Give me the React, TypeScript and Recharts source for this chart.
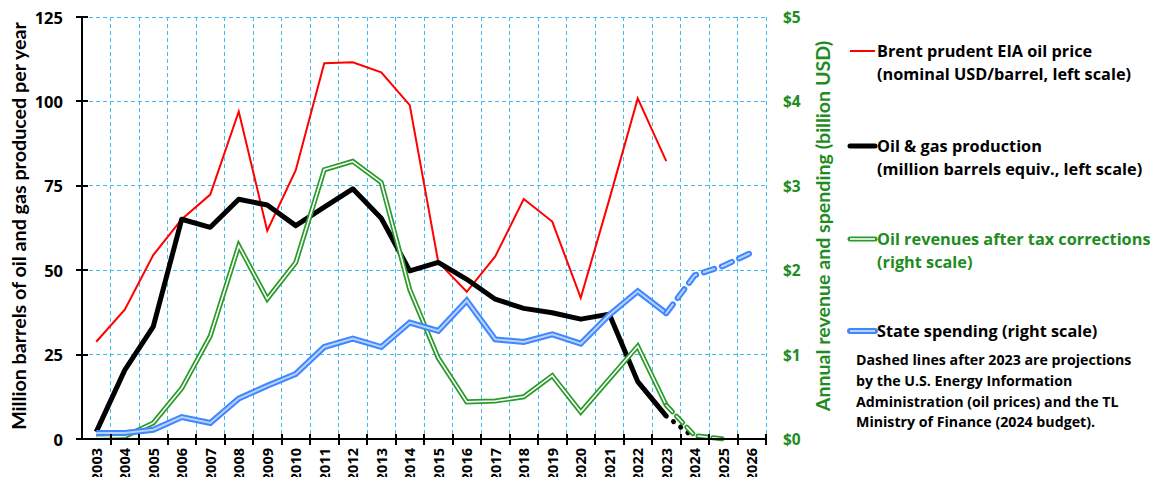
import { LineChart, Line, XAxis, YAxis, CartesianGrid } from "recharts"

const years = [
  2003, 2004, 2005, 2006, 2007, 2008, 2009, 2010, 2011, 2012, 2013, 2014,
  2015, 2016, 2017, 2018, 2019, 2020, 2021, 2022, 2023, 2024, 2025, 2026,
]

// USD/barrel, left scale
const brentPrice = [
  28.8, 38.3, 54.5, 65.1, 72.4, 97.0, 61.7, 79.6, 111.3, 111.6, 108.6, 98.9,
  52.4, 43.6, 54.1, 71.1, 64.4, 41.8, 70.9, 100.9, 82.3, null, null, null,
]

// million barrels equiv., left scale
const production = [
  2.1, 20.4, 33.3, 65.1, 62.7, 71.0, 69.3, 63.2, 68.7, 74.1, 65.4, 49.8,
  52.3, 47.3, 41.4, 38.7, 37.4, 35.5, 37.0, 17.0, 6.8, null, null, null,
]
const productionProj = [
  null, null, null, null, null, null, null, null, null, null, null, null,
  null, null, null, null, null, null, null, null, 6.8, 0.3, null, null,
]

// billion USD, right scale
const revenue = [
  0.02, 0.03, 0.19, 0.6, 1.22, 2.29, 1.66, 2.09, 3.19, 3.29, 3.04, 1.77,
  0.96, 0.44, 0.45, 0.5, 0.75, 0.32, 0.71, 1.1, 0.4, null, null, null,
]
const revenueProj = [
  null, null, null, null, null, null, null, null, null, null, null, null,
  null, null, null, null, null, null, null, null, 0.4, 0.04, 0.0, null,
]

const spending = [
  0.07, 0.07, 0.11, 0.26, 0.19, 0.48, 0.63, 0.77, 1.09, 1.19, 1.09, 1.38,
  1.28, 1.64, 1.18, 1.15, 1.24, 1.13, 1.47, 1.75, 1.49, null, null, null,
]
const spendingProj = [
  null, null, null, null, null, null, null, null, null, null, null, null,
  null, null, null, null, null, null, null, null, 1.49, 1.94, 2.05, 2.21,
]

const leftTicks = [0, 25, 50, 75, 100, 125]
const rightTicks = [0, 1, 2, 3, 4, 5]

const data = years.map((year, i) => ({
  year,
  price: brentPrice[i],
  prod: production[i],
  prodProj: productionProj[i],
  rev: revenue[i],
  revProj: revenueProj[i],
  spend: spending[i],
  spendProj: spendingProj[i],
}))

const X_MIN = years[0] - 0.5
const X_MAX = years[years.length - 1] + 0.5
// Excel-style category axis: ticks and gridlines sit on the band boundaries,
// each year label is drawn half a band to the left of its right boundary
const bounds = years.map((y) => y + 0.5)

const FONT = "'Open Sans', sans-serif"
const TITLE_FONT = "Lato, sans-serif"
const RED = "#ff0000"
const GREEN = "#2a9a2a"
const GREEN_TEXT = "#1e8c1e"
const BLUE = "#3f86ff"
const BLUE_IN = "#b9d3ff"
const GRID = "#40bdf0"

const YearTick = (props: any) => {
  const { x, y, payload, width } = props
  const half = width / years.length / 2
  const lx = x - half
  const ly = y + 9
  return (
    <g>
      <line x1={x} x2={x} y1={y - 5} y2={y + 6} stroke="#000" strokeWidth={2} shapeRendering="crispEdges" />
      <text
        x={lx}
        y={ly}
        transform={`rotate(-90, ${lx}, ${ly})`}
        textAnchor="end"
        dominantBaseline="central"
        fontFamily={FONT}
        fontWeight="bold"
        fontSize={14.5}
        fill="#000"
      >
        {payload.value - 0.5}
      </text>
    </g>
  )
}

const LeftTick = (props: any) => {
  const { x, y, payload } = props
  return (
    <g>
      <line x1={x - 6} x2={x + 6} y1={y} y2={y} stroke="#000" strokeWidth={2} shapeRendering="crispEdges" />
      <text
        x={x - 19}
        y={y}
        textAnchor="end"
        dominantBaseline="central"
        fontFamily={FONT}
        fontWeight="bold"
        fontSize={16.5}
        fill="#000"
      >
        {payload.value}
      </text>
    </g>
  )
}

const RightTick = (props: any) => {
  const { x, y, payload } = props
  return (
    <text
      x={x + 17}
      y={y}
      textAnchor="start"
      dominantBaseline="central"
      fontFamily={FONT}
      fontWeight="bold"
      fontSize={15.5}
      fill={GREEN_TEXT}
    >
      {`$${payload.value}`}
    </text>
  )
}

const legendText = { fontFamily: FONT, fontWeight: "bold" as const, fontSize: 16.3 }
const noteText = { fontFamily: FONT, fontWeight: "bold" as const, fontSize: 14.2 }

function Overlay() {
  return (
    <svg
      width={1158}
      height={485}
      style={{ position: "absolute", left: 0, top: 0, pointerEvents: "none" }}
    >
      {/* axis titles */}
      <text
        x={18}
        y={226}
        transform="rotate(-90, 18, 226)"
        textAnchor="middle"
        dominantBaseline="central"
        fontFamily={TITLE_FONT}
        fontWeight="bold"
        fontSize={19.7}
        fill="#000"
      >
        Million barrels of oil and gas produced per year
      </text>
      <text
        x={822}
        y={226}
        transform="rotate(-90, 822, 226)"
        textAnchor="middle"
        dominantBaseline="central"
        fontFamily={TITLE_FONT}
        fontWeight="bold"
        fontSize={19.6}
        fill={GREEN_TEXT}
      >
        Annual revenue and spending (billion USD)
      </text>

      {/* legend */}
      <line x1={850} x2={875} y1={51} y2={51} stroke={RED} strokeWidth={2} />
      <text x={877} y={51} dominantBaseline="central" {...legendText}>Brent prudent EIA oil price</text>
      <text x={877} y={74} dominantBaseline="central" {...legendText}>(nominal USD/barrel, left scale)</text>

      <line x1={850} x2={875} y1={146} y2={146} stroke="#000" strokeWidth={5} strokeLinecap="round" />
      <text x={877} y={146} dominantBaseline="central" {...legendText}>Oil &amp; gas production</text>
      <text x={877} y={169} dominantBaseline="central" {...legendText}>(million barrels equiv., left scale)</text>

      <line x1={850} x2={875} y1={239} y2={239} stroke={GREEN} strokeWidth={5} strokeLinecap="round" />
      <line x1={850} x2={875} y1={239} y2={239} stroke="#fff" strokeWidth={1.6} />
      <text x={877} y={239} dominantBaseline="central" {...legendText} fill={GREEN_TEXT}>Oil revenues after tax corrections</text>
      <text x={877} y={262} dominantBaseline="central" {...legendText} fill={GREEN_TEXT}>(right scale)</text>

      <line x1={850} x2={875} y1={331} y2={331} stroke={BLUE} strokeWidth={6} strokeLinecap="round" />
      <line x1={850} x2={875} y1={331} y2={331} stroke={BLUE_IN} strokeWidth={2} />
      <text x={877} y={331} dominantBaseline="central" {...legendText}>State spending (right scale)</text>

      <text x={856} y={359} dominantBaseline="central" {...noteText}>Dashed lines after 2023 are projections</text>
      <text x={856} y={380} dominantBaseline="central" {...noteText}>by the U.S. Energy Information</text>
      <text x={856} y={401} dominantBaseline="central" {...noteText}>Administration (oil prices) and the TL</text>
      <text x={856} y={421} dominantBaseline="central" {...noteText}>Ministry of Finance (2024 budget).</text>
    </svg>
  )
}

export default function App() {
  return (
    <div style={{ position: "relative", width: 1158, height: 485, margin: -8, background: "#fff" }}>
      <LineChart
        width={1158}
        height={485}
        data={data}
        margin={{ top: 17, right: 0, bottom: 0, left: 0 }}
      >
        <CartesianGrid
          yAxisId="left"
          stroke={GRID}
          strokeDasharray="4 3"
          strokeWidth={1}
          shapeRendering="crispEdges"
        />
        <XAxis
          dataKey="year"
          type="number"
          domain={[X_MIN, X_MAX]}
          ticks={bounds}
          interval={0}
          tickLine={false}
          tickSize={0}
          tickMargin={0}
          axisLine={{ stroke: "#000", strokeWidth: 2, shapeRendering: "crispEdges" }}
          tick={<YearTick />}
          height={46}
        />
        <YAxis
          yAxisId="left"
          domain={[0, 125]}
          ticks={leftTicks}
          interval={0}
          width={82}
          tickLine={false}
          tickSize={0}
          tickMargin={0}
          axisLine={{ stroke: "#000", strokeWidth: 2, shapeRendering: "crispEdges" }}
          tick={<LeftTick />}
        />
        <YAxis
          yAxisId="right"
          orientation="right"
          domain={[0, 5]}
          ticks={rightTicks}
          interval={0}
          width={392}
          tickLine={false}
          tickSize={0}
          tickMargin={0}
          axisLine={false}
          tick={<RightTick />}
        />

        <Line yAxisId="left" dataKey="price" stroke={RED} strokeWidth={2} dot={false} isAnimationActive={false} />

        <Line yAxisId="left" dataKey="prod" stroke="#000" strokeWidth={5} dot={false} strokeLinejoin="round" isAnimationActive={false} />
        <Line yAxisId="left" dataKey="prodProj" stroke="#000" strokeWidth={5} strokeDasharray="0.1 9" strokeLinecap="round" dot={false} isAnimationActive={false} />

        <Line yAxisId="right" dataKey="rev" stroke={GREEN} strokeWidth={5} dot={false} isAnimationActive={false} />
        <Line yAxisId="right" dataKey="rev" stroke="#fff" strokeWidth={1.6} dot={false} isAnimationActive={false} />
        <Line yAxisId="right" dataKey="revProj" stroke={GREEN} strokeWidth={5} strokeDasharray="9 6" strokeLinecap="round" dot={false} isAnimationActive={false} />
        <Line yAxisId="right" dataKey="revProj" stroke="#fff" strokeWidth={1.6} strokeDasharray="9 6" strokeLinecap="round" dot={false} isAnimationActive={false} />

        <Line yAxisId="right" dataKey="spend" stroke={BLUE} strokeWidth={6} dot={false} isAnimationActive={false} />
        <Line yAxisId="right" dataKey="spend" stroke={BLUE_IN} strokeWidth={2} dot={false} isAnimationActive={false} />
        <Line yAxisId="right" dataKey="spendProj" stroke={BLUE} strokeWidth={6} strokeDasharray="11 8" strokeLinecap="round" dot={false} isAnimationActive={false} />
        <Line yAxisId="right" dataKey="spendProj" stroke={BLUE_IN} strokeWidth={2} strokeDasharray="11 8" strokeLinecap="round" dot={false} isAnimationActive={false} />
      </LineChart>
      <Overlay />
    </div>
  )
}
